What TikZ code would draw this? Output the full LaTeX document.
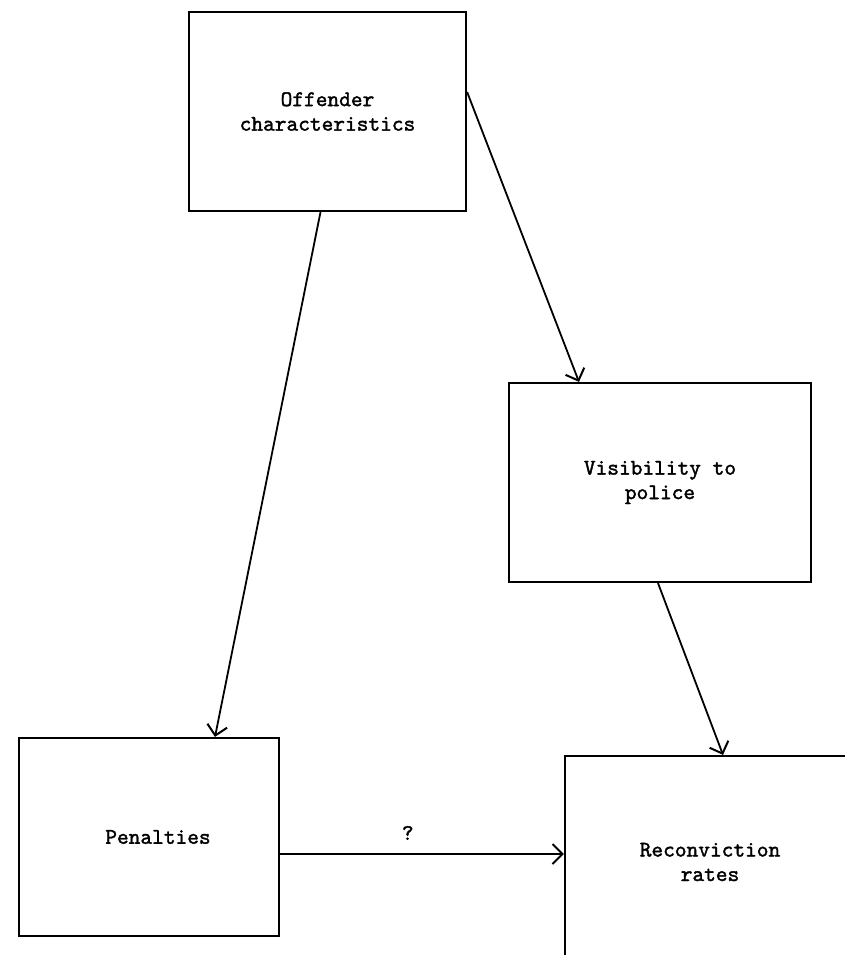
\documentclass[tikz,border=0pt]{standalone}
\usepackage{fontspec}
\newfontfamily\boxfont{lmmono10-regular.otf}[FakeBold=1.6]
\usetikzlibrary{arrows.meta}

\begin{document}
\begin{tikzpicture}[x=1pt, y=-1pt,
  factor/.style={rectangle, draw=black, line width=2.2pt, align=center, font=\boxfont\fontsize{22.3}{24.5}\selectfont},
  link/.style={-{Straight Barb[length=10pt, width=20pt, line width=2pt]}, line width=1.8pt}
]
\useasboundingbox (0,0) rectangle (845,955);
\node[factor, minimum width=277pt, minimum height=199pt] (off) at (327.5,111.5) {Offender\\characteristics};
\node[factor, minimum width=302pt, minimum height=199pt] (vis) at (660,482.5) {Visibility to\\police};
\node[factor, minimum width=260pt, minimum height=198pt] (pen) at (149,837) {\hspace*{18pt}Penalties};
\begin{scope}
\clip (0,0) rectangle (845,955);
\node[factor, minimum width=290pt, minimum height=212pt] (rec) at (710,862) {Reconviction\\rates};
\end{scope}
\draw[link] ([yshift=19.5pt]off.east) -- ([xshift=-81pt]vis.north);
\draw[link] ([xshift=-7pt]off.south) -- ([xshift=66pt]pen.north);
\draw[link] ([xshift=-2pt]vis.south) -- ([xshift=13pt]rec.north);
\draw[link] ([yshift=-17pt]pen.east) coordinate (q) -- (q -| rec.west) node[pos=0.45, yshift=21pt, font=\boxfont\fontsize{22.3}{24.5}\selectfont] (qm) {?};
\end{tikzpicture}
\end{document}
